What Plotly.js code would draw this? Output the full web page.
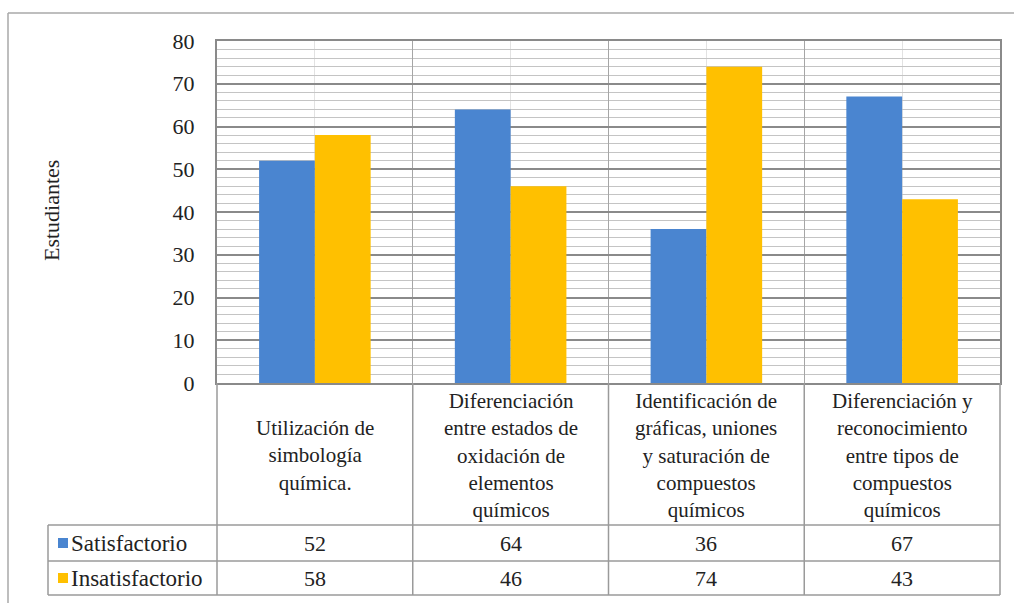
<!DOCTYPE html>
<html>
<head>
<meta charset="utf-8">
<script src="https://cdn.plot.ly/plotly-3.0.1.min.js"></script>
<style>html,body{margin:0;padding:0;background:#fff;}#chart{width:1014px;height:603px;}</style>
</head>
<body>
<div id="chart"></div>
<script>
const categories = [
  "Utilización de<br>simbología<br>química.",
  "Diferenciación<br>entre estados de<br>oxidación de<br>elementos<br>químicos",
  "Identificación de<br>gráficas, uniones<br>y saturación de<br>compuestos<br>químicos",
  "Diferenciación y<br>reconocimiento<br>entre tipos de<br>compuestos<br>químicos"
];
const seriesNames = ["Satisfactorio", "Insatisfactorio"];
const satisfactorio = [52, 64, 36, 67];
const insatisfactorio = [58, 46, 74, 43];
const seriesColors = ["#4a85d0", "#ffc000"];
const yTicks = [0, 10, 20, 30, 40, 50, 60, 70, 80];

const W = 1014, H = 603;
const px = v => v / W;
const py = v => 1 - v / H;
const FONT = "Liberation Serif";
const TXT = "#222";
const LINE = "#9a9a9a";

const xIdx = categories.map((_, i) => i);
const traces = [satisfactorio, insatisfactorio].map((vals, k) => ({
  type: "bar", x: xIdx, y: vals, name: seriesNames[k],
  marker: {color: seriesColors[k]}, hoverinfo: "y"
}));

const plotTop = 41, plotBottom = 383, plotLeft = 217, plotRight = 1000;
const labelBottom = 525, row1Bottom = 561, row2Bottom = 595, legLeft = 48;

const shapes = [];
const annotations = [];
shapes.push({type: "line", xref: "paper", yref: "paper", x0: px(8), x1: px(1014), y0: py(13), y1: py(13), line: {color: "#a8a8a8", width: 1.5}});
shapes.push({type: "line", xref: "paper", yref: "paper", x0: px(8), x1: px(8), y0: py(13), y1: py(603), line: {color: "#a8a8a8", width: 1.5}});
[labelBottom, row1Bottom, row2Bottom].forEach(yy => {
  shapes.push({type: "line", xref: "paper", yref: "paper", x0: px(legLeft), x1: px(plotRight), y0: py(yy), y1: py(yy), line: {color: LINE, width: 1.5}});
});
shapes.push({type: "line", xref: "paper", yref: "paper", x0: px(legLeft), x1: px(legLeft), y0: py(labelBottom), y1: py(row2Bottom), line: {color: LINE, width: 1.5}});
shapes.push({type: "line", xref: "paper", yref: "paper", x0: px(plotLeft), x1: px(plotLeft), y0: py(plotBottom), y1: py(row2Bottom), line: {color: LINE, width: 1.5}});
shapes.push({type: "line", xref: "paper", yref: "paper", x0: px(plotRight), x1: px(plotRight), y0: py(plotBottom), y1: py(row2Bottom), line: {color: LINE, width: 1.5}});
for (let i = 0; i < categories.length - 1; i++) {
  shapes.push({type: "line", xref: "x", yref: "paper", x0: i + 0.5, x1: i + 0.5, y0: py(plotBottom), y1: py(row2Bottom), line: {color: LINE, width: 1.5}});
}
categories.forEach((c, i) => {
  annotations.push({xref: "x", yref: "paper", x: i, y: py(455), text: c, showarrow: false,
    xanchor: "center", yanchor: "middle", align: "center",
    font: {family: FONT, size: 21, color: TXT}});
});
const rows = [satisfactorio, insatisfactorio];
const rowCenters = [543, 578];
rows.forEach((vals, k) => {
  const yc = py(rowCenters[k]);
  shapes.push({type: "rect", xref: "paper", yref: "paper", x0: px(58), x1: px(68), y0: py(rowCenters[k] - 5), y1: py(rowCenters[k] + 5), fillcolor: seriesColors[k], line: {width: 0}});
  annotations.push({xref: "paper", yref: "paper", x: px(69), y: yc, text: seriesNames[k], showarrow: false,
    xanchor: "left", yanchor: "middle", font: {family: FONT, size: 23, color: TXT}});
  vals.forEach((v, i) => {
    annotations.push({xref: "x", yref: "paper", x: i, y: yc, text: String(v), showarrow: false,
      xanchor: "center", yanchor: "middle", font: {family: FONT, size: 22, color: TXT}});
  });
});
annotations.push({xref: "paper", yref: "paper", x: px(51), y: py(211), text: "Estudiantes", textangle: -90,
  showarrow: false, xanchor: "center", yanchor: "middle", font: {family: FONT, size: 22, color: TXT}});

const layout = {
  width: W, height: H,
  margin: {l: 0, r: 0, t: 0, b: 0},
  paper_bgcolor: "#fff", plot_bgcolor: "#fff",
  font: {family: FONT, color: TXT},
  showlegend: false,
  barmode: "group", bargap: 0.43, bargroupgap: 0,
  xaxis: {
    domain: [px(plotLeft), px(plotRight)],
    range: [-0.5, categories.length - 0.5],
    tickmode: "linear", tick0: 0.5, dtick: 1,
    showticklabels: false, ticks: "",
    showgrid: true, gridcolor: "#a6a6a6", gridwidth: 1,
    zeroline: false,
    showline: true, linecolor: "#8a8a8a", linewidth: 2, mirror: true,
    minor: {tick0: 0, dtick: 1, showgrid: true, gridcolor: "#e2e2e2", gridwidth: 1, ticks: ""}
  },
  yaxis: {
    domain: [py(plotBottom), py(plotTop)],
    range: [0, 80],
    tickmode: "array", tickvals: yTicks, ticktext: yTicks.map(String),
    ticks: "", ticklabelstandoff: 16,
    tickfont: {family: FONT, size: 22, color: TXT},
    showgrid: true, gridcolor: "#8a8a8a", gridwidth: 2,
    zeroline: false,
    showline: true, linecolor: "#8a8a8a", linewidth: 2, mirror: true,
    minor: {tick0: 0, dtick: 2, showgrid: true, gridcolor: "#c4c4c4", gridwidth: 1, ticks: ""}
  },
  shapes: shapes,
  annotations: annotations
};

Plotly.newPlot("chart", traces, layout, {displayModeBar: false, staticPlot: true});
</script>
</body>
</html>
